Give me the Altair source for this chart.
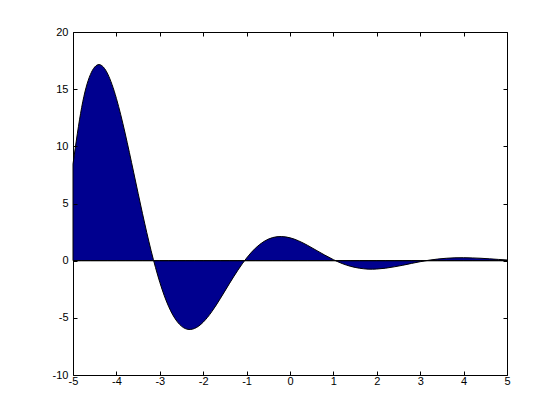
import altair as alt
import pandas as pd

x_vals = [-5.0, -4.8, -4.6, -4.4, -4.2, -4.0, -3.8, -3.6, -3.4, -3.2,
          -3.0, -2.8, -2.6, -2.4, -2.2, -2.0, -1.8, -1.6, -1.4, -1.2,
          -1.0, -0.8, -0.6, -0.4, -0.2, 0.0, 0.2, 0.4, 0.6, 0.8,
          1.0, 1.2, 1.4, 1.6, 1.8, 2.0, 2.2, 2.4, 2.6, 2.8,
          3.0, 3.2, 3.4, 3.6, 3.8, 4.0, 4.2, 4.4, 4.6, 4.8, 5.0]
y_vals = [8.45, 13.41, 16.27, 17.15, 16.33, 14.19, 11.16, 7.68, 4.14, 0.87,
          -1.89, -3.98, -5.33, -5.96, -5.93, -5.38, -4.45, -3.28, -2.03, -0.83,
          0.23, 1.08, 1.68, 2.02, 2.11, 2.00, 1.73, 1.35, 0.92, 0.49,
          0.09, -0.25, -0.50, -0.66, -0.74, -0.73, -0.66, -0.54, -0.40, -0.24,
          -0.09, 0.04, 0.14, 0.21, 0.25, 0.26, 0.24, 0.21, 0.16, 0.11, 0.06]
x_ticks = [-5, -4, -3, -2, -1, 0, 1, 2, 3, 4, 5]
y_ticks = [-10, -5, 0, 5, 10, 15, 20]
baseline = [0]

df = pd.DataFrame({"x": x_vals, "y": y_vals})
df_base = pd.DataFrame({"base": baseline})

FONT = "Liberation Sans"
TICK = 4

xscale = alt.Scale(domain=[-5, 5], nice=False, zero=False)
yscale = alt.Scale(domain=[-10, 20], nice=False, zero=False)

common = dict(grid=False, domain=False, tickColor="black", tickWidth=1,
              tickSize=TICK, offset=-TICK, title=None, zindex=1)

area = alt.Chart(df).mark_area(
    color="#00008F", stroke="black", strokeWidth=1, line=False,
    interpolate="natural"
).encode(
    x=alt.X("x:Q", scale=xscale,
            axis=alt.Axis(orient="bottom", values=x_ticks, labelPadding=0,
                          labelFlush=False, labelOverlap=False,
                          labelFont=FONT, labelFontSize=11, labelColor="black",
                          labelExpr="'' + datum.value", **common)),
    y=alt.Y("y:Q", scale=yscale, stack=None,
            axis=alt.Axis(orient="left", values=y_ticks, labelPadding=5,
                          labelFlush=False, labelOverlap=False,
                          labelFont=FONT, labelFontSize=11, labelColor="black",
                          labelExpr="'' + datum.value", **common)),
    y2=alt.datum(0),
)

zero_line = alt.Chart(df_base).mark_rule(color="black", strokeWidth=1).encode(
    y=alt.Y("base:Q", scale=yscale, axis=None)
)

frame = alt.Chart(df).mark_point(opacity=0).encode(
    x=alt.X("x:Q", scale=xscale,
            axis=alt.Axis(orient="top", values=x_ticks, labels=False,
                          **common)),
    y=alt.Y("y:Q", scale=yscale,
            axis=alt.Axis(orient="right", values=y_ticks, labels=False,
                          **common)),
)

chart = alt.layer(area, zero_line, frame).resolve_axis(
    x="independent", y="independent"
).properties(
    width=434, height=343,
    padding={"left": 65, "top": 24, "right": 45, "bottom": 37},
    autosize=alt.AutoSizeParams(type="none"),
    background="white",
).configure_view(stroke="black", strokeWidth=1)

chart.save("out.html", embed_options={"renderer": "svg", "actions": False})
